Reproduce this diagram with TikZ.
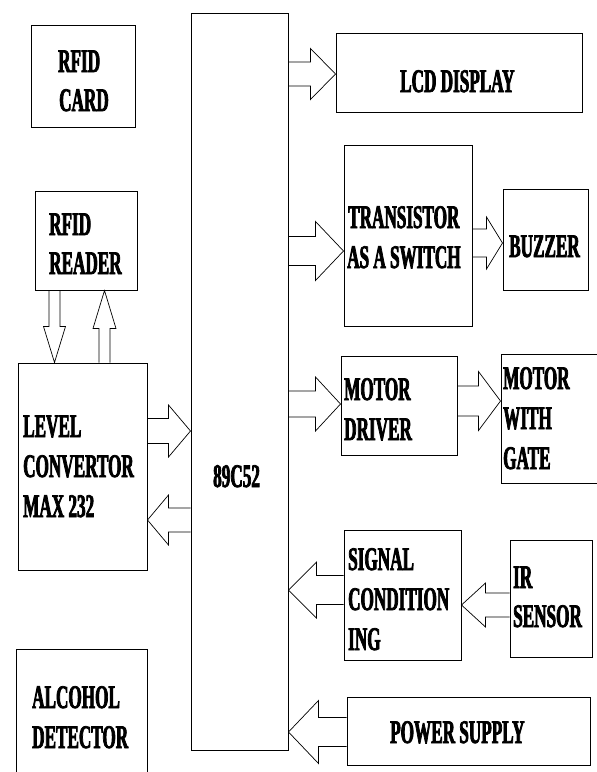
\documentclass[tikz,border=0pt]{standalone}
\usepackage{fontspec}
\newfontfamily\lab[FakeStretch=0.52,FakeBold=2.2]{Liberation Serif Bold}
\usetikzlibrary{calc,fit}
\begin{document}
\begin{tikzpicture}[x=1pt,y=-1pt,
  box/.style={draw, line width=1pt, inner sep=0pt, rectangle},
  lbl/.style={inner sep=0pt, anchor=base west, font=\lab\fontsize{33}{40}\selectfont},
  blk/.style n args={3}{draw, line width=0.7pt, to path={
    let \p1=(\tikztostart), \p2=(\tikztotarget),
        \n1={atan2(\y2-\y1,\x2-\x1)}, \n2={veclen(\x2-\x1,\y2-\y1)-#3} in
    ($(\p1)+(\n1+90:#1pt)$)
    -- ($(\p1)+(\n1:\n2)+(\n1+90:#1pt)$)
    -- ($(\p1)+(\n1:\n2)+(\n1+90:#2pt)$)
    -- (\p2)
    -- ($(\p1)+(\n1:\n2)+(\n1-90:#2pt)$)
    -- ($(\p1)+(\n1:\n2)+(\n1-90:#1pt)$)
    -- ($(\p1)+(\n1-90:#1pt)$)}}]
\useasboundingbox (0,0) rectangle (597,772);
\clip (0,0) rectangle (597,772);
% boxes
\node[box, fit={(31,25) (135,127)}] (card) {};
\node[box, fit={(35,191) (137,290)}] (reader) {};
\node[box, fit={(18,363) (147,570)}] (level) {};
\node[box, fit={(16,649) (147,800)}] (alcohol) {};
\node[box, fit={(191,13) (288,750)}] (mcu) {};
\node[box, fit={(336,33) (582,112)}] (lcd) {};
\node[box, fit={(344,145) (472,326)}] (trans) {};
\node[box, fit={(503,189) (588,290)}] (buzzer) {};
\node[box, fit={(341,356) (457,455)}] (driver) {};
\node[box, fit={(501,354) (630,483)}] (motor) {};
\node[box, fit={(344,530) (461,660)}] (signal) {};
\node[box, fit={(510,540) (592,657)}] (ir) {};
\node[box, fit={(347,697) (590,765)}] (power) {};
% labels
\node[lbl] (cardA) at (58,72) {RFID};
\node[lbl] (cardB) at (59,111) {CARD};
\node[lbl] (readerA) at (49,235) {RFID};
\node[lbl] (readerB) at (49,274) {READER};
\node[lbl] (levelA) at (23,437) {LEVEL};
\node[lbl] (levelB) at (23,477) {CONVERTOR};
\node[lbl] (levelC) at (23,517) {MAX 232};
\node[lbl] (mcuA) at (213,487) {89C52};
\node[lbl] (alcA) at (32,708) {ALCOHOL};
\node[lbl] (alcB) at (32,748) {DETECTOR};
\node[lbl] (lcdA) at (400,92) {LCD DISPLAY};
\node[lbl] (transA) at (348,228) {TRANSISTOR};
\node[lbl] (transB) at (347,268) {AS A SWITCH};
\node[lbl] (buzA) at (509,257) {BUZZER};
\node[lbl] (drvA) at (344,400) {MOTOR};
\node[lbl] (drvB) at (344,440) {DRIVER};
\node[lbl] (motA) at (503,389) {MOTOR};
\node[lbl] (motB) at (503,429) {WITH};
\node[lbl] (motC) at (503,469) {GATE};
\node[lbl] (sigA) at (348,570) {SIGNAL};
\node[lbl] (sigB) at (348,610) {CONDITION};
\node[lbl] (sigC) at (348,650) {ING};
\node[lbl] (irA) at (513,588) {IR};
\node[lbl] (irB) at (513,627) {SENSOR};
\node[lbl] (pwrA) at (390,743) {POWER SUPPLY};
% block arrows
\draw[blk={12}{25.5}{25}] (mcu.east |- 0,74) to (lcd.west |- 0,74);
\draw[blk={14.5}{29.5}{28}] (mcu.east |- 0,251) to (trans.west |- 0,251);
\draw[blk={14}{26}{16}] (trans.east |- 0,243) to (buzzer.west |- 0,243);
\draw[blk={13}{27}{25}] (mcu.east |- 0,404) to (driver.west |- 0,404);
\draw[blk={15}{29.5}{22}] (driver.east |- 0,401) to (motor.west |- 0,401);
\draw[blk={12}{22}{24}] (ir.west |- 0,605) to (signal.east |- 0,605);
\draw[blk={14.5}{28}{28}] (signal.west |- 0,590) to (mcu.east |- 0,590);
\draw[blk={14.5}{31.5}{30}] (power.west |- 0,732) to (mcu.east |- 0,732);
\draw[blk={12.5}{26}{22}] (level.east |- 0,431) to (mcu.west |- 0,431);
\draw[blk={12}{25}{21}] (mcu.west |- 0,520) to (level.east |- 0,520);
\draw[blk={5.5}{11}{36}] (reader.south -| 54.5,0) to (level.north -| 54.5,0);
\draw[blk={5.5}{11.5}{38}] (level.north -| 104.5,0) to (reader.south -| 104.5,0);
\end{tikzpicture}
\end{document}
